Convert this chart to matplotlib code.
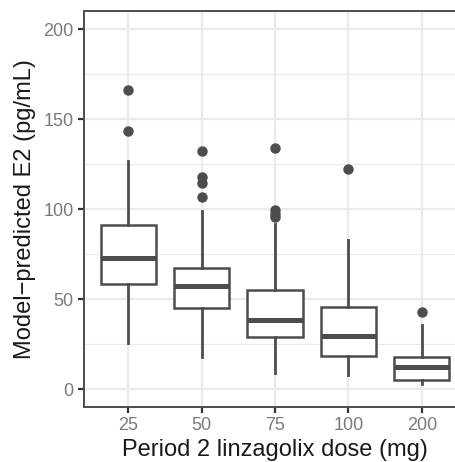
import matplotlib
matplotlib.use("Agg")
import matplotlib.pyplot as plt
from matplotlib.ticker import MultipleLocator

plt.rcParams['font.family'] = ['Liberation Sans', 'DejaVu Sans']

doses = ['25', '50', '75', '100', '200']
q1 = [58.5, 45.0, 29.0, 18.3, 4.8]
med = [73.0, 57.0, 38.6, 29.4, 12.0]
q3 = [90.9, 67.4, 55.2, 45.3, 17.7]
whislo = [25.7, 17.9, 9.0, 7.6, 2.8]
whishi = [126.9, 98.8, 91.4, 83.0, 35.5]
outliers = [
    [166.2, 143.3],
    [132.0, 118.0, 114.7, 106.5],
    [134.0, 99.5, 97.4, 95.4],
    [122.2],
    [42.7],
]

stats = []
for i in range(len(doses)):
    stats.append(dict(q1=q1[i], med=med[i], q3=q3[i], whislo=whislo[i],
                      whishi=whishi[i], fliers=outliers[i], label=doses[i]))

dark = '#4d4d4d'
fig = plt.figure(figsize=(4.55, 4.62), dpi=100)
ax = fig.add_axes([84 / 455, 55 / 462, 382 / 455, 396 / 462])

ax.bxp(stats, positions=range(1, 6), widths=0.75, showcaps=False,
       patch_artist=True,
       boxprops=dict(facecolor='white', edgecolor=dark, linewidth=1.8),
       medianprops=dict(color=dark, linewidth=3.6, solid_capstyle='butt'),
       whiskerprops=dict(color=dark, linewidth=2.0),
       flierprops=dict(marker='o', markerfacecolor=dark, markeredgecolor=dark,
                       markersize=6.5))

ax.set_xlim(0.4, 5.6)
ax.set_ylim(-10, 210)
ax.yaxis.set_major_locator(MultipleLocator(50))
ax.yaxis.set_minor_locator(MultipleLocator(25))
ax.grid(which='major', color='#ebebeb', linewidth=1.6, zorder=0)
ax.grid(which='minor', axis='y', color='#ebebeb', linewidth=0.9, zorder=0)
ax.set_axisbelow(True)
ax.tick_params(which='minor', length=0)
ax.tick_params(which='major', length=4.5, width=1.6, color='#333333',
               labelcolor='#7a7a7a', labelsize=13, pad=3)
for s in ax.spines.values():
    s.set_color('#4d4d4d')
    s.set_linewidth(1.4)

ax.set_xlabel('Period 2 linzagolix dose (mg)', fontsize=17, color='#1a1a1a', labelpad=3)
ax.set_ylabel('Model\u2212predicted E2 (pg/mL)', fontsize=17, color='#1a1a1a', labelpad=5)

fig.savefig('out.png', dpi=100)
